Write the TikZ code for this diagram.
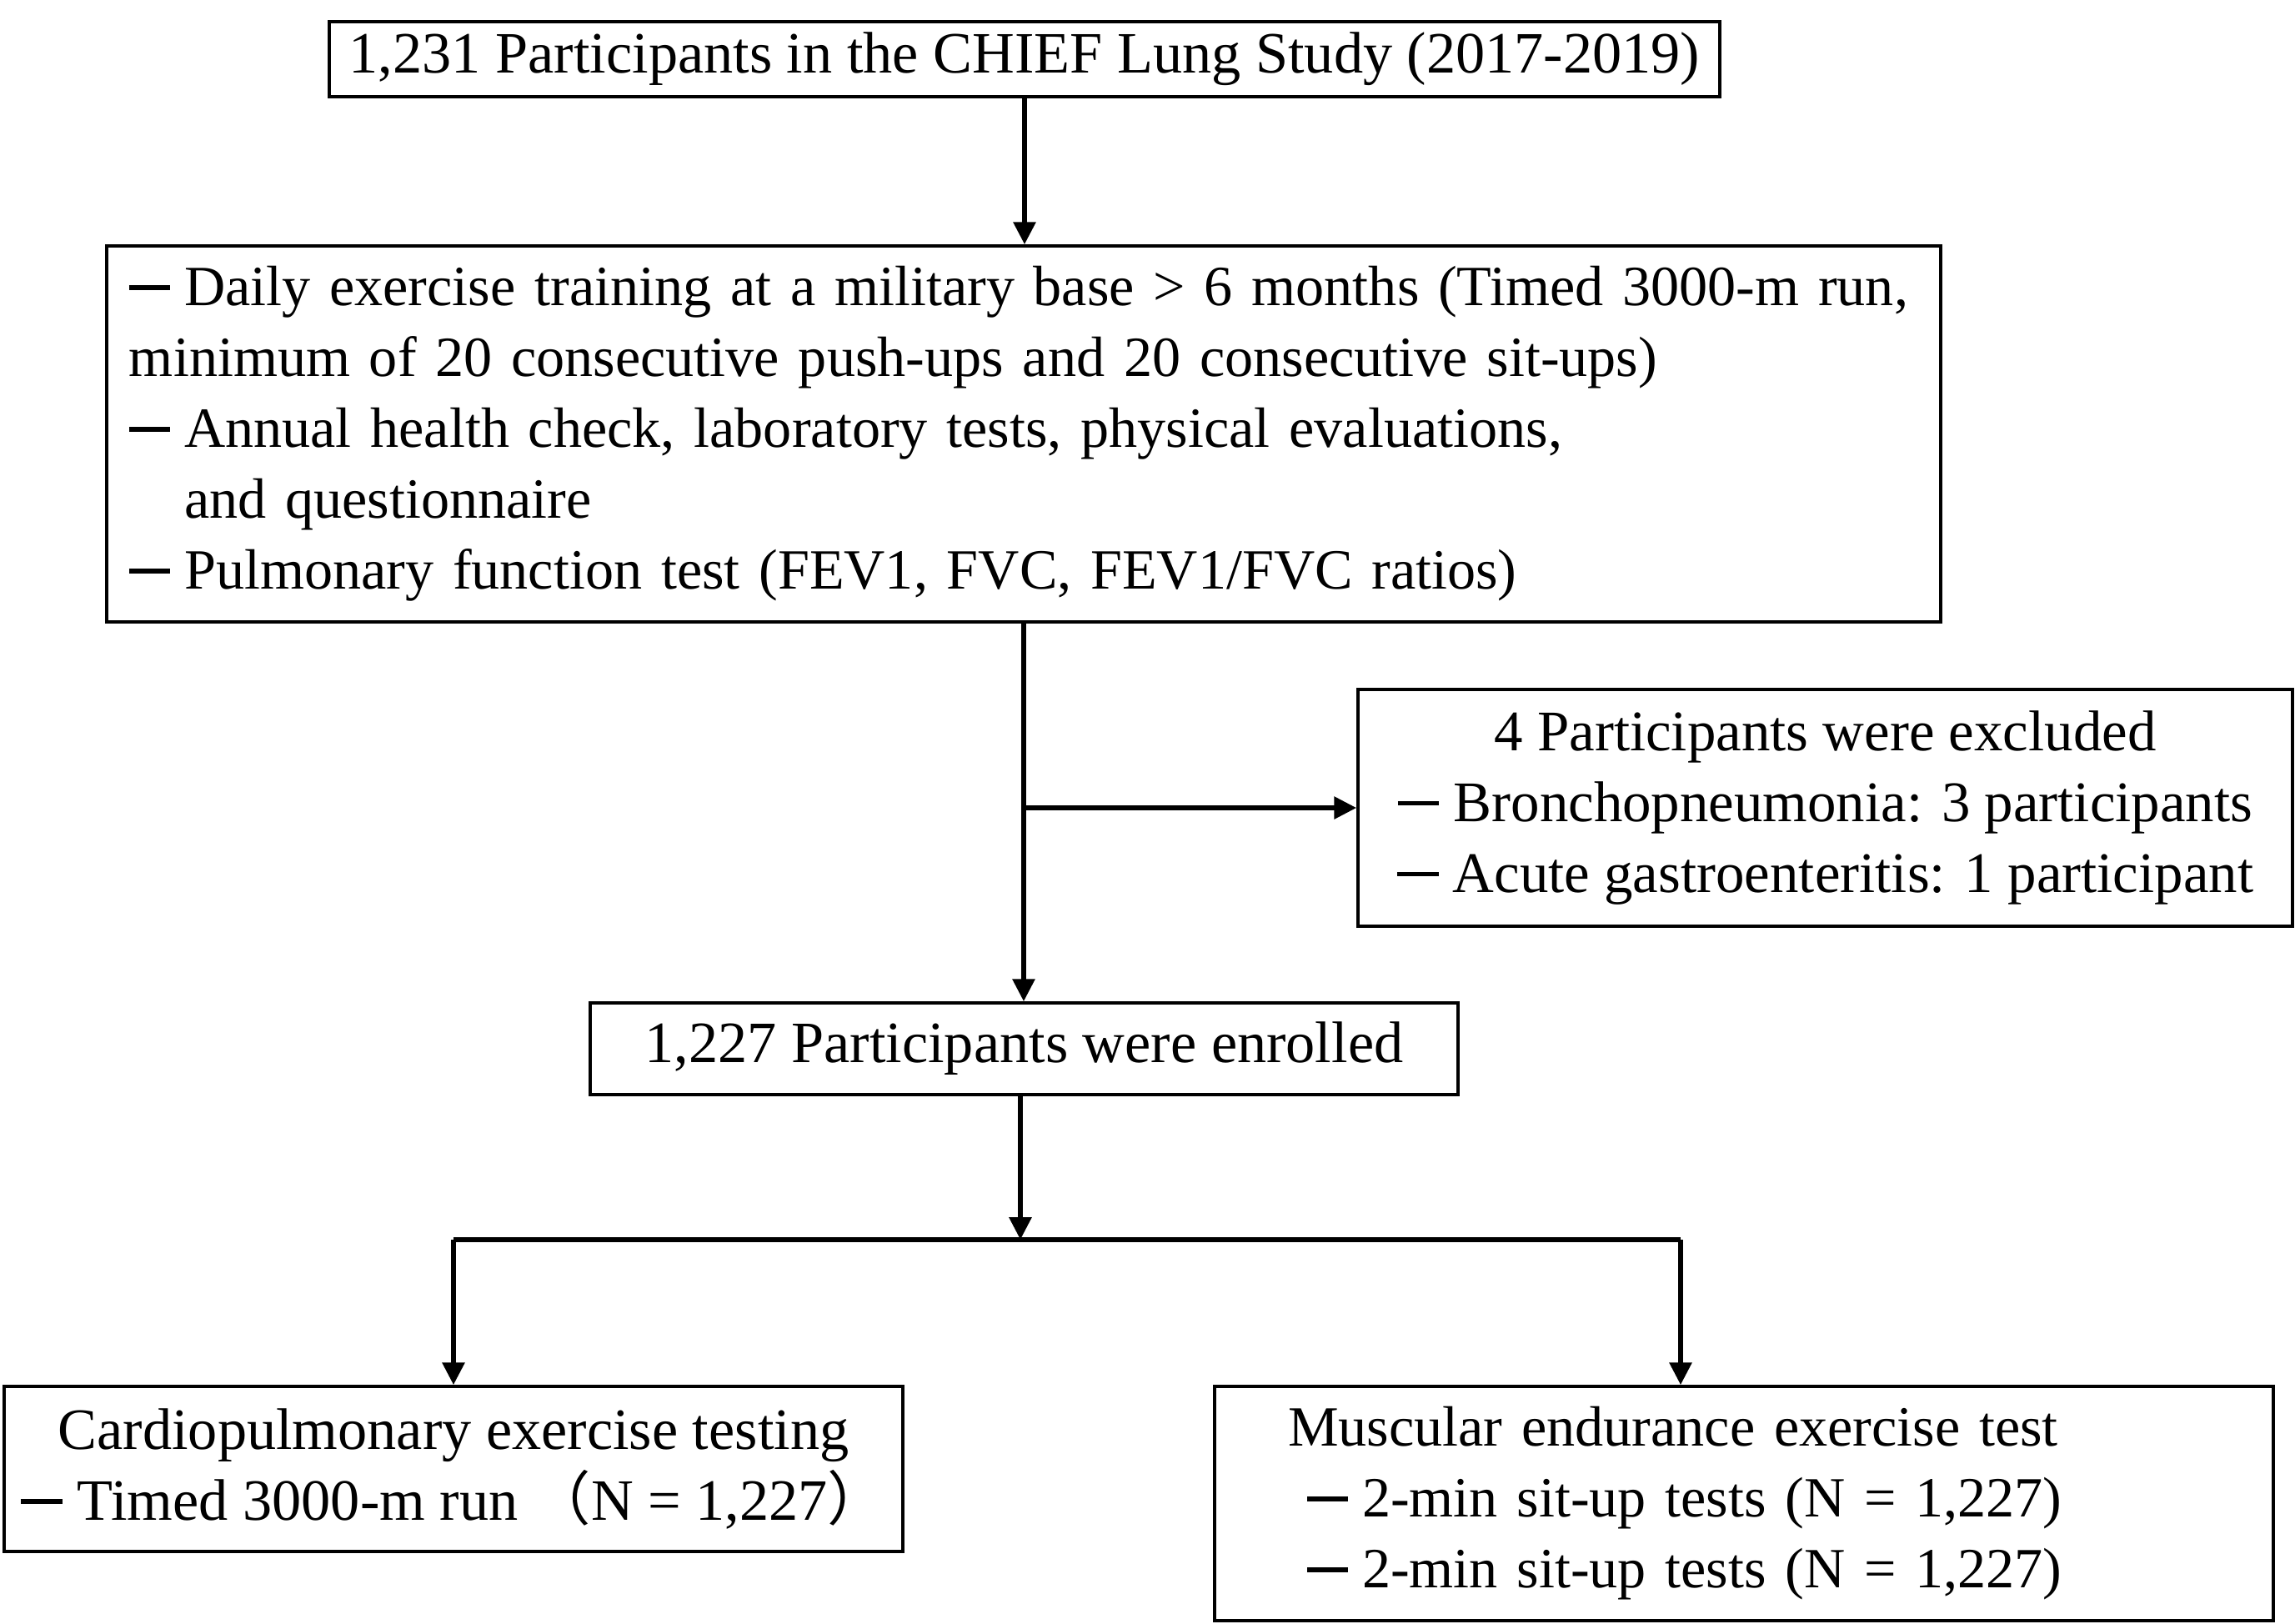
\documentclass[tikz,border=0pt]{standalone}
\usepackage{fontspec}
\setmainfont{Liberation Serif}
\newfontfamily\cjkfont{Noto Sans CJK SC}
\usepackage{xcolor}
\usetikzlibrary{arrows.meta,positioning,calc}
\newcommand{\dashmark}{\rule[0.28em]{0.72em}{0.08em}\hspace{0.25em}}

\begin{document}
\begin{tikzpicture}[
		box/.style={draw,line width=1pt,inner sep=0pt,align=center,font=\fontsize{20}{24.2}\selectfont},
		small/.style={font=\fontsize{#1}{24.2}\selectfont},
		arr/.style={line width=1.7pt,-{Triangle[length=0.27cm,width=0.26cm]}}]
		\useasboundingbox (0,0) rectangle (27.53,-19.47);
		\node[box,minimum width=16.68cm,minimum height=0.9cm] (total) at (12.29,-0.71) {1,231 Participants in the CHIEF Lung Study (2017-2019)};
		\node[box,small=19.4,minimum width=22cm,minimum height=4.51cm,text width=21.46cm,inner xsep=0.27cm,align=left] (criteria) at (12.28,-5.205) {\dashmark Daily exercise training at a military base > 6 months (Timed 3000-m run,\\
			minimum of 20 consecutive push-ups and 20 consecutive sit-ups)\\
			\dashmark Annual health check, laboratory tests, physical evaluations,\\
			\hphantom{\dashmark}and questionnaire\\
			\dashmark Pulmonary function test (FEV1, FVC, FEV1/FVC ratios)};
		\node[box,small=19.6,minimum width=11.21cm,minimum height=2.84cm] (excluded) at (21.895,-9.69) {4 Participants were excluded\\
			\dashmark Bronchopneumonia: 3 participants\\
			\dashmark Acute gastroenteritis: 1 participant};
		\node[box,minimum width=10.41cm,minimum height=1.1cm] (enrolled) at (12.285,-12.58) {1,227 Participants were enrolled};
		\node[box,minimum width=10.78cm,minimum height=1.98cm] (cardio) at (5.44,-17.62) {Cardiopulmonary exercise testing\\
			\dashmark Timed 3000-m run {\cjkfont （}N = 1,227{\cjkfont ）}};
		\node[box,small=19.4,minimum width=12.7cm,minimum height=2.81cm,text width=10.94cm,inner xsep=0.88cm,align=left] (muscle) at (20.92,-18.035) {Muscular endurance exercise test\\
			\hspace*{0.23cm}\dashmark 2-min sit-up tests (N = 1,227)\\
			\hspace*{0.23cm}\dashmark 2-min sit-up tests (N = 1,227)};
		% connectors
		\draw[arr] (total.south) -- (total.south |- criteria.north);
		\draw[arr] (criteria.south) -- (criteria.south |- enrolled.north);
		\coordinate (split) at (criteria.south |- excluded.west);
		\draw[arr] (split) -- (excluded.west);
		\coordinate (fork) at (12.24,-14.87);
		\coordinate (forkL) at (cardio.north |- fork);
		\coordinate (forkR) at (20.16,-14.87);
		\draw[arr] (enrolled.south -| fork) -- (fork);
		\draw[line width=1.9pt] (forkL) -- (forkR);
		\draw[arr] (forkL) -- (cardio.north);
		\draw[arr] (forkR) -- (forkR |- muscle.north);
	\end{tikzpicture}
\end{document}
